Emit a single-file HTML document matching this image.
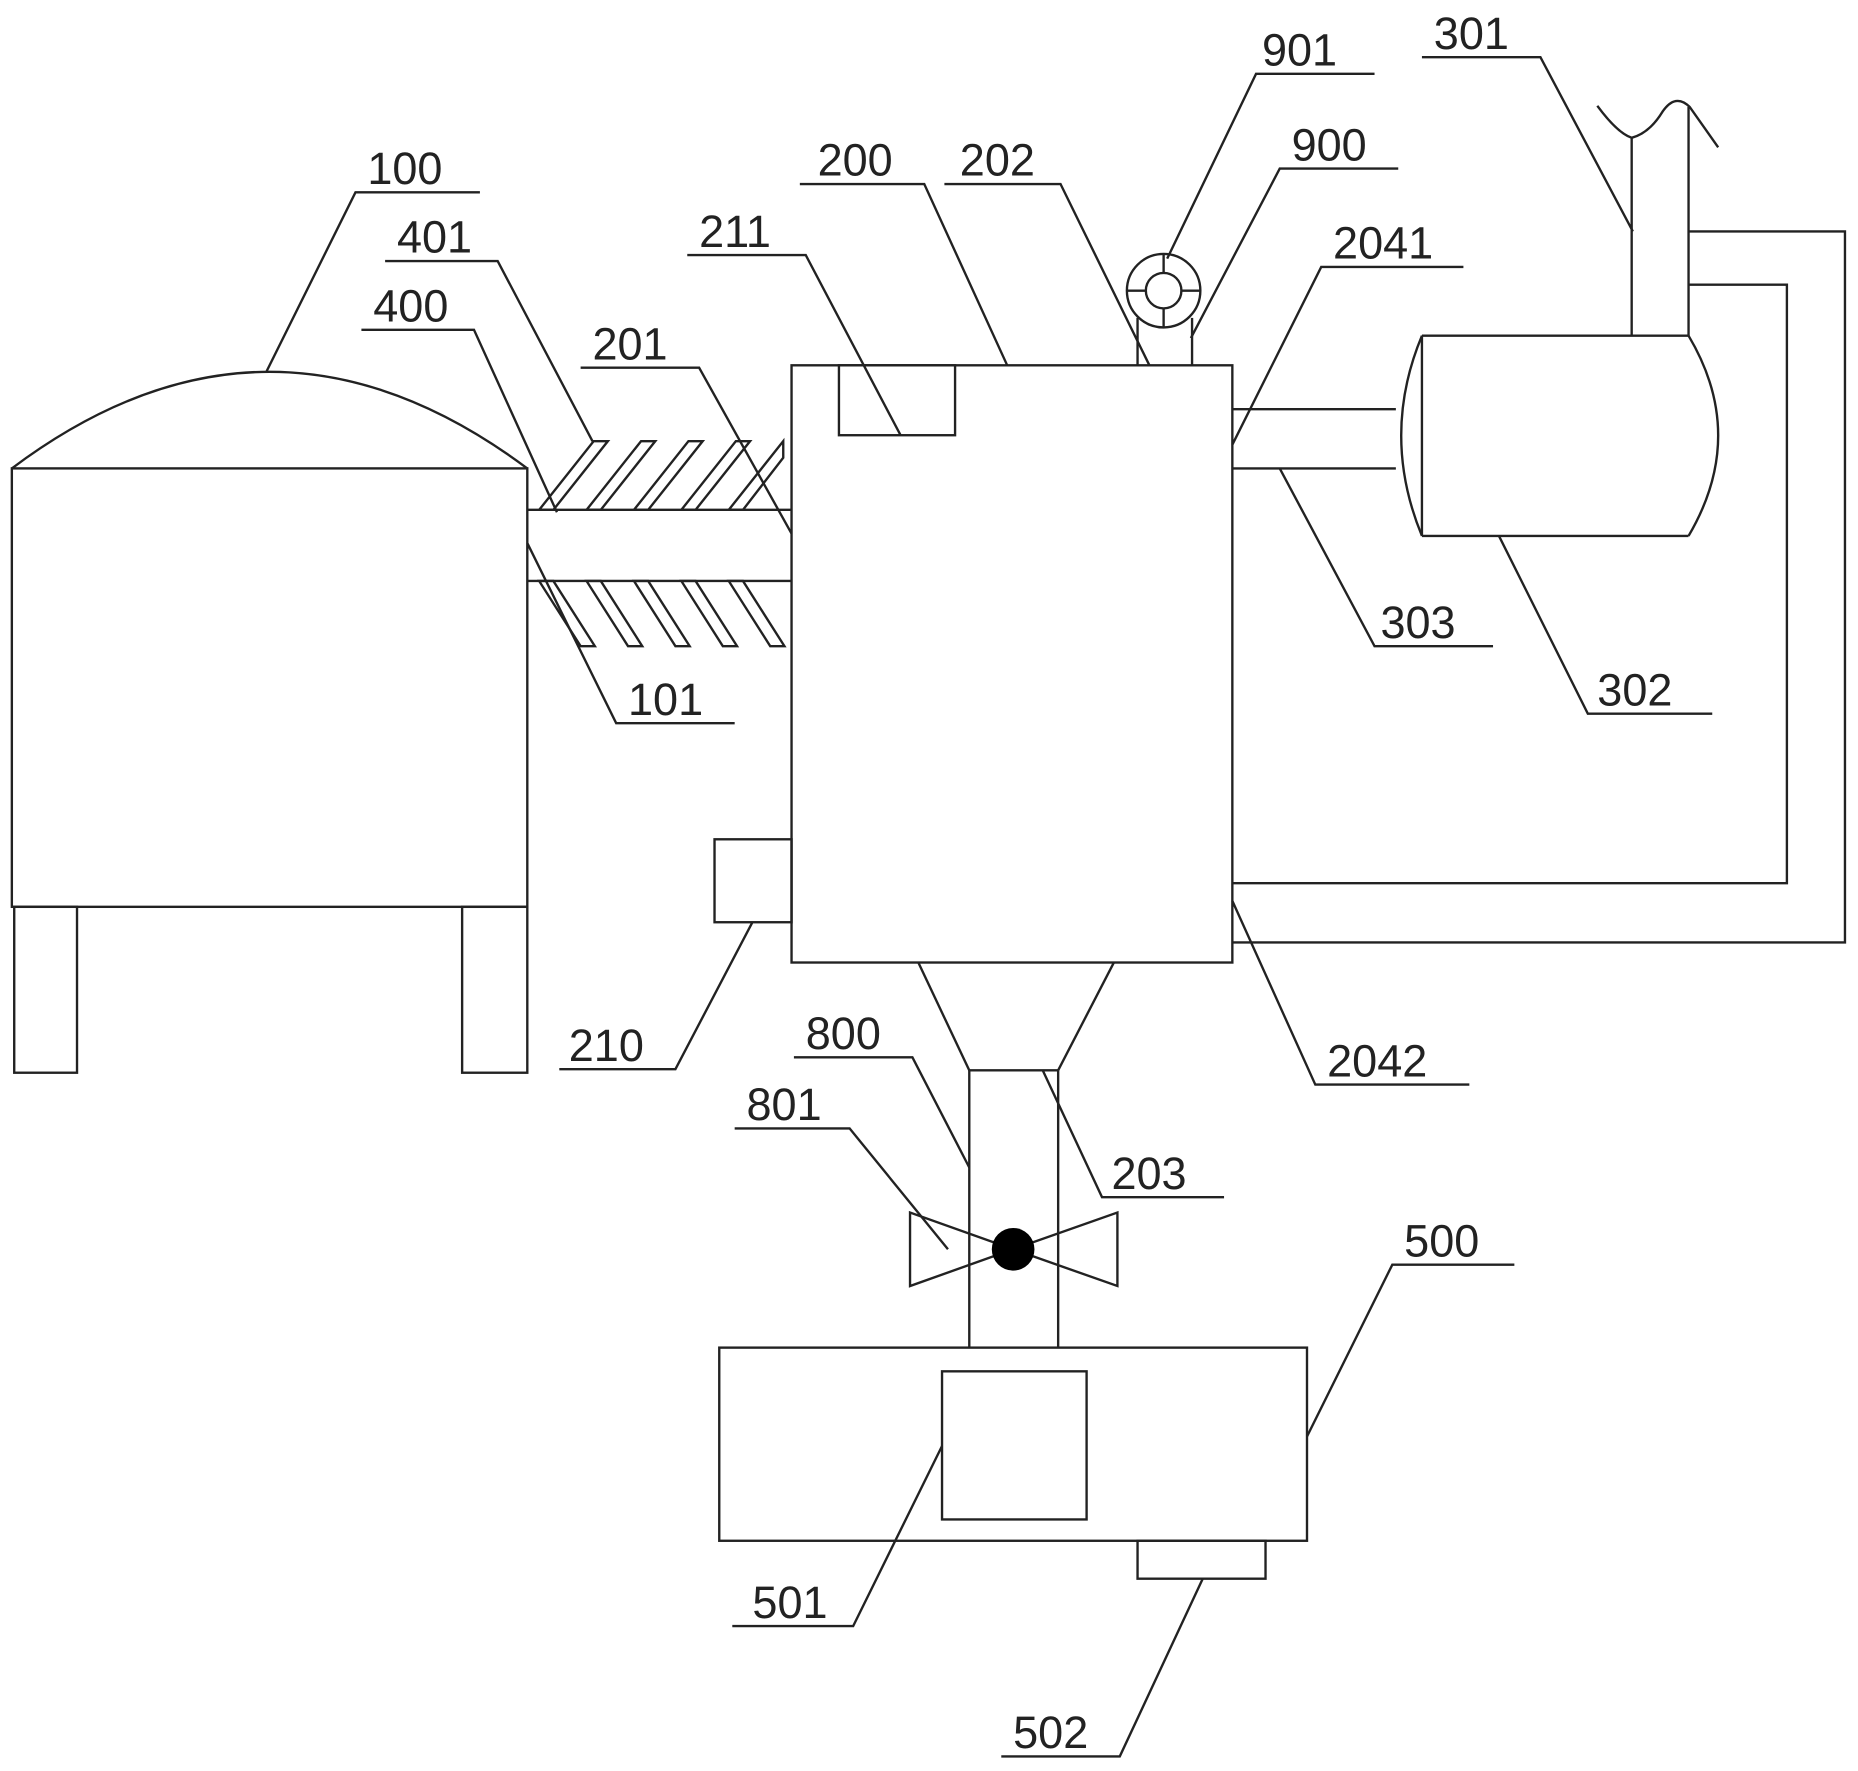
<!DOCTYPE html>
<html><head><meta charset="utf-8"><style>html,body{margin:0;padding:0;background:#fff}svg{display:block}</style></head>
<body>
<svg width="1858" height="1771" viewBox="0 0 1568 1494" xmlns="http://www.w3.org/2000/svg">
<g fill="none" stroke="#222" stroke-width="2">
<!-- tank 100 -->
<rect x="10" y="395" width="435" height="370"/>
<path d="M10,395 Q227,232 445,395"/>
<rect x="12" y="765" width="53" height="140"/>
<rect x="390" y="765" width="55" height="140"/>
<!-- pipe 101 -->
<line x1="445" y1="430" x2="668" y2="430"/>
<line x1="445" y1="490" x2="668" y2="490"/>
<!-- hatching -->
<polygon points="455,430 467,430 513,372 501,372"/>
<polygon points="495,430 507,430 553,372 541,372"/>
<polygon points="535,430 547,430 593,372 581,372"/>
<polygon points="575,430 587,430 633,372 621,372"/>
<polygon points="615,430 627,430 661,386 661,372 661,372"/>
<polygon points="455,490 467,490 502,545 490,545"/>
<polygon points="495,490 507,490 542,545 530,545"/>
<polygon points="535,490 547,490 582,545 570,545"/>
<polygon points="575,490 587,490 622,545 610,545"/>
<polygon points="615,490 627,490 662,545 650,545"/>
<!-- chamber 200 -->
<rect x="668" y="308" width="372" height="504"/>
<rect x="708" y="308" width="98" height="59"/>
<rect x="603" y="708" width="65" height="70"/>
<line x1="775" y1="812" x2="818" y2="903"/>
<line x1="940" y1="812" x2="893" y2="903"/>
<line x1="818" y1="903" x2="893" y2="903"/>
<line x1="818" y1="903" x2="818" y2="1137"/>
<line x1="893" y1="903" x2="893" y2="1137"/>
<!-- valve -->
<polygon points="768,1023 768,1085 855,1054"/>
<polygon points="943,1023 943,1085 855,1054"/>
<!-- box 500 -->
<rect x="607" y="1137" width="496" height="163"/>
<rect x="795" y="1157" width="122" height="125"/>
<rect x="960" y="1300" width="108" height="32"/>
<!-- fan -->
<circle cx="982" cy="245" r="31"/>
<circle cx="982" cy="245" r="15"/>
<line x1="951" y1="245" x2="967" y2="245"/>
<line x1="997" y1="245" x2="1013" y2="245"/>
<line x1="982" y1="214" x2="982" y2="230"/>
<line x1="982" y1="260" x2="982" y2="276"/>
<line x1="960" y1="268" x2="960" y2="308"/>
<line x1="1006" y1="268" x2="1006" y2="308"/>
<!-- pipe 2041 -->
<line x1="1040" y1="345" x2="1178" y2="345"/>
<line x1="1040" y1="395" x2="1178" y2="395"/>
<!-- tank 302 -->
<line x1="1200" y1="283" x2="1425" y2="283"/>
<line x1="1200" y1="452" x2="1425" y2="452"/>
<line x1="1200" y1="283" x2="1200" y2="452"/>
<path d="M1200,283 Q1165,367 1200,452"/>
<path d="M1425,283 Q1475,367 1425,452"/>
<!-- pipe 301 -->
<line x1="1377" y1="283" x2="1377" y2="116"/>
<line x1="1425" y1="283" x2="1425" y2="90"/>
<path d="M1348,89 Q1365,112 1377,116 Q1392,112 1403,94 Q1414,78 1426,90 L1450,124"/>
<!-- loops -->
<polyline points="1425,195 1557,195 1557,795 1040,795"/>
<polyline points="1425,240 1508,240 1508,745 1040,745"/>
<!-- leaders -->
<path d="M405,162H300L225,313"/>
<path d="M325,220H420L500,372"/>
<path d="M305,278H400L470,432"/>
<path d="M490,310H590L668,450"/>
<path d="M580,215H680L760,367"/>
<path d="M675,155H780L850,308"/>
<path d="M797,155H895L970,308"/>
<path d="M1160,62H1060L985,218"/>
<path d="M1180,142H1080L1005,285"/>
<path d="M1235,225H1115L1040,375"/>
<path d="M1200,48H1300L1378,195"/>
<path d="M1260,545H1160L1080,395"/>
<path d="M1445,602H1340L1265,452"/>
<path d="M620,610H520L445,458"/>
<path d="M472,902H570L635,778"/>
<path d="M670,892H770L818,985"/>
<path d="M620,952H717L800,1054"/>
<path d="M1033,1010H930L880,903"/>
<path d="M1240,915H1110L1040,760"/>
<path d="M1278,1067H1175L1103,1212"/>
<path d="M618,1372H720L795,1220"/>
<path d="M845,1482H945L1015,1332"/>
</g>
<circle cx="855" cy="1054" r="18" fill="#000"/>
<g font-family="Liberation Sans, sans-serif" font-size="38" fill="#222">
<text x="310" y="155">100</text>
<text x="335" y="213">401</text>
<text x="315" y="271">400</text>
<text x="500" y="303">201</text>
<text x="590" y="208">211</text>
<text x="690" y="148">200</text>
<text x="810" y="148">202</text>
<text x="1065" y="55">901</text>
<text x="1090" y="135">900</text>
<text x="1125" y="218">2041</text>
<text x="1210" y="41">301</text>
<text x="1165" y="538">303</text>
<text x="1348" y="595">302</text>
<text x="530" y="603">101</text>
<text x="480" y="895">210</text>
<text x="680" y="885">800</text>
<text x="630" y="945">801</text>
<text x="938" y="1003">203</text>
<text x="1120" y="908">2042</text>
<text x="1185" y="1060">500</text>
<text x="635" y="1365">501</text>
<text x="855" y="1475">502</text>
</g>
</svg>
</body></html>
